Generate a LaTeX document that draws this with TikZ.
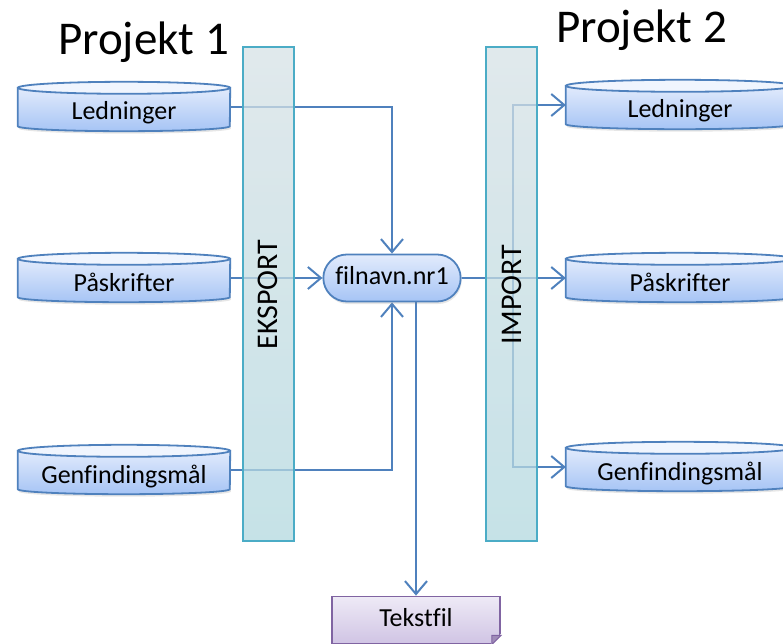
\documentclass[tikz,border=0pt]{standalone}
\usepackage{fontspec}
\setmainfont{Carlito}[Ligatures=NoCommon]
\usetikzlibrary{arrows.meta,shapes,positioning,shadows}
\definecolor{lineblue}{RGB}{79,129,189}
\definecolor{dbtop}{RGB}{226,235,252}
\definecolor{dbbottom}{RGB}{166,196,245}
\definecolor{barline}{RGB}{75,172,198}
\definecolor{bartop}{RGB}{214,225,229}
\definecolor{barbottom}{RGB}{178,216,223}
\definecolor{docline}{RGB}{128,100,162}
\definecolor{doctop}{RGB}{238,234,246}
\definecolor{docbottom}{RGB}{208,196,228}
\pgfdeclarelayer{bg}    % bars and cylinders
\pgfdeclarelayer{bbg}   % connectors
\pgfsetlayers{bbg,bg,main}

\begin{document}
\begin{tikzpicture}[x=1pt, y=-1pt,
        dbbox/.style = {minimum width=212pt, minimum height=37pt, inner sep=0pt,
                        text height=32pt, text depth=6pt, font=\fontsize{26}{30}\selectfont},
        cylbody/.style = {draw=lineblue, line width=1.8pt, top color=dbtop, bottom color=dbbottom,
                          drop shadow={opacity=0.2, shadow xshift=1pt, shadow yshift=-2.5pt}},
        cyltop/.style = {draw=lineblue, line width=1.8pt, fill=dbtop!50!white},
        filebox/.style = {rounded rectangle, draw=lineblue, line width=1.8pt, top color=dbtop,
                          bottom color=dbbottom, minimum width=144pt, minimum height=47pt,
                          text height=19pt, text depth=6pt, font=\fontsize{26}{30}\selectfont,
                          drop shadow={opacity=0.2, shadow xshift=1pt, shadow yshift=-2.5pt}},
        textfile/.style = {rectangle, draw=docline, line width=1.8pt, top color=doctop,
                           bottom color=docbottom, minimum width=168pt, minimum height=47pt,
                           text height=19pt, text depth=6pt, font=\fontsize{26}{30}\selectfont},
        bar/.style = {draw=barline, line width=2pt, top color=bartop, bottom color=barbottom,
                      fill opacity=0.75},
        bartext/.style = {rotate=90, font=\fontsize{30}{34}\selectfont},
        title/.style = {anchor=base west, inner sep=0pt, font=\fontsize{47}{52}\selectfont},
        conn/.style = {draw=lineblue, line width=2pt, -{Straight Barb[length=13pt,width=22pt]}}]
    \useasboundingbox (0,0) rectangle (783,644);
    % titles
    \node[title] (proj1) at (58,55) {Projekt 1};
    \node[title] (proj2) at (556,43) {Projekt 2};
    % tables
    \node[dbbox] (led1) at (124,107) {Ledninger};
    \node[dbbox] (pas1) at (124,278) {Påskrifter};
    \node[dbbox] (gen1) at (124,470) {Genfindingsmål};
    \node[dbbox, minimum width=228pt] (led2) at (680,105) {Ledninger};
    \node[dbbox, minimum width=228pt] (pas2) at (680,278) {Påskrifter};
    \node[dbbox, minimum width=228pt] (gen2) at (680,467) {Genfindingsmål};
    % file
    \node[filebox] (filnavn) at (392,278) {filnavn.nr1};
    \node[textfile] (tekstfil) at (416,620) {Tekstfil};
    \fill[white, draw=white, line width=2pt] ([xshift=-9pt]tekstfil.south east) -- (tekstfil.south east)
        -- ([yshift=9pt]tekstfil.south east) -- cycle;
    \filldraw[draw=docline, fill=docline!75, line width=1pt] ([xshift=-9pt]tekstfil.south east)
        -- ([yshift=9pt]tekstfil.south east) -- ([xshift=-9pt,yshift=9pt]tekstfil.south east) -- cycle;
    % export / import
    \node[bartext] (eksport) at (268,294.5) {EKSPORT};
    \node[bartext] (import) at (512,294.5) {IMPORT};
    \begin{pgfonlayer}{bg}
        \draw[bar] (243,47) rectangle (294,541);
        \draw[bar] (486,47) rectangle (537,541);
        \foreach \n/\rad in {led1/106pt, pas1/106pt, gen1/106pt, led2/114pt, pas2/114pt, gen2/114pt}{
            \path[cylbody] (\n.north west) -- (\n.south west)
                arc[start angle=180, end angle=360, x radius=\rad, y radius=5pt]
                -- (\n.north east) -- cycle;
            \draw[cyltop] (\n.north) ellipse [x radius=\rad, y radius=6pt];
        }
    \end{pgfonlayer}
    \begin{pgfonlayer}{bbg}
        \draw[conn] (led1.east) -| (filnavn.north);
        \draw[conn] (pas1.east) -- (filnavn.west);
        \draw[conn] (gen1.east) -| (filnavn.south);
        \draw[conn] (filnavn.east) -- (pas2.west);
        \coordinate[right=51pt of filnavn.east] (split);
        \draw[conn] (split) |- (led2.west);
        \draw[conn] (split) |- (gen2.west);
        \draw[conn] (filnavn.south -| tekstfil.north) -- (tekstfil.north);
    \end{pgfonlayer}
\end{tikzpicture}
\end{document}
